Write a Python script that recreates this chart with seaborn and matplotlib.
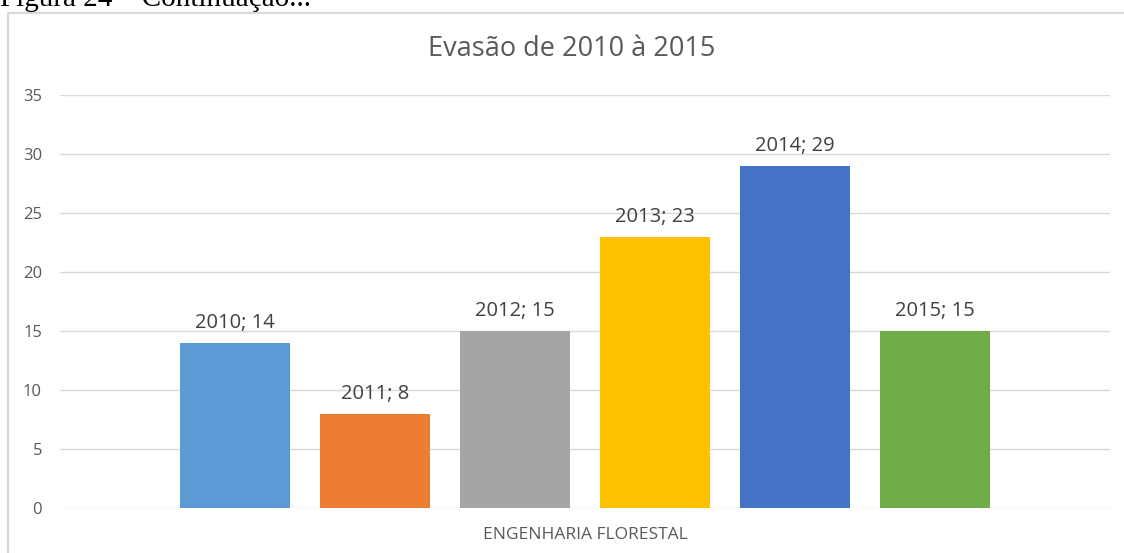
import matplotlib
matplotlib.use("Agg")
import matplotlib.pyplot as plt
import seaborn as sns
import pandas as pd
from matplotlib.lines import Line2D

category = ["ENGENHARIA FLORESTAL"]
years = ["2010", "2011", "2012", "2013", "2014", "2015"]
values = [14, 8, 15, 23, 29, 15]
colors = ["#5B9BD5", "#ED7D31", "#A5A5A5", "#FFC000", "#4472C4", "#70AD47"]
yticks = [0, 5, 10, 15, 20, 25, 30, 35]
title = "Evasão de 2010 à 2015"
caption = "Figura 24 – Continuação..."

df = pd.DataFrame({"curso": category * len(years), "ano": years, "evasao": values})

sns.set_theme(style="white")
plt.rcParams["font.family"] = ["Open Sans", "DejaVu Sans"]

W, H = 1124, 553
fig = plt.figure(figsize=(W / 100, H / 100), dpi=100)
fig.patch.set_facecolor("white")

def px(x0, y0, x1, y1):
    return [x0 / W, 1 - y1 / H, (x1 - x0) / W, (y1 - y0) / H]

ax = fig.add_axes(px(60, 95, 1110, 508))
sns.barplot(data=df, x="curso", y="evasao", hue="ano", palette=colors,
            width=0.8, gap=0.214, legend=False, ax=ax, saturation=1,
            linewidth=0, edgecolor="none")

ax.set_ylim(0, 35)
ax.set_yticks(yticks)
ax.set_xlabel("")
ax.set_ylabel("")
for s in ax.spines.values():
    s.set_visible(False)
ax.yaxis.grid(True, color="#d9d9d9", linewidth=1.0)
ax.set_axisbelow(True)
ax.tick_params(axis="y", length=0, pad=13, labelsize=12, labelcolor="#595959")
ax.tick_params(axis="x", length=0, pad=14, labelsize=12.5, labelcolor="#595959")

for cont, yr, v in zip(ax.containers, years, values):
    ax.bar_label(cont, labels=[f"{yr}; {v}"], padding=7, fontsize=14.5, color="#404040")

fig.text(571.5 / W, 1 - 49 / H, title, ha="center", va="center",
         fontsize=19.5, color="#595959")

# outer chart border (top and left edges visible)
fig.add_artist(Line2D([8 / W, 1.0], [1 - 12.5 / H, 1 - 12.5 / H],
                      transform=fig.transFigure, color="#d9d9d9", linewidth=1.5))
fig.add_artist(Line2D([8 / W, 8 / W], [0.0, 1 - 12.5 / H],
                      transform=fig.transFigure, color="#d9d9d9", linewidth=1.5))

fig.text(0 / W, 1 - 6 / H, caption, ha="left", va="baseline",
         fontsize=21, color="black", family=["Liberation Serif", "DejaVu Serif"])

fig.savefig("out.png", dpi=100)
